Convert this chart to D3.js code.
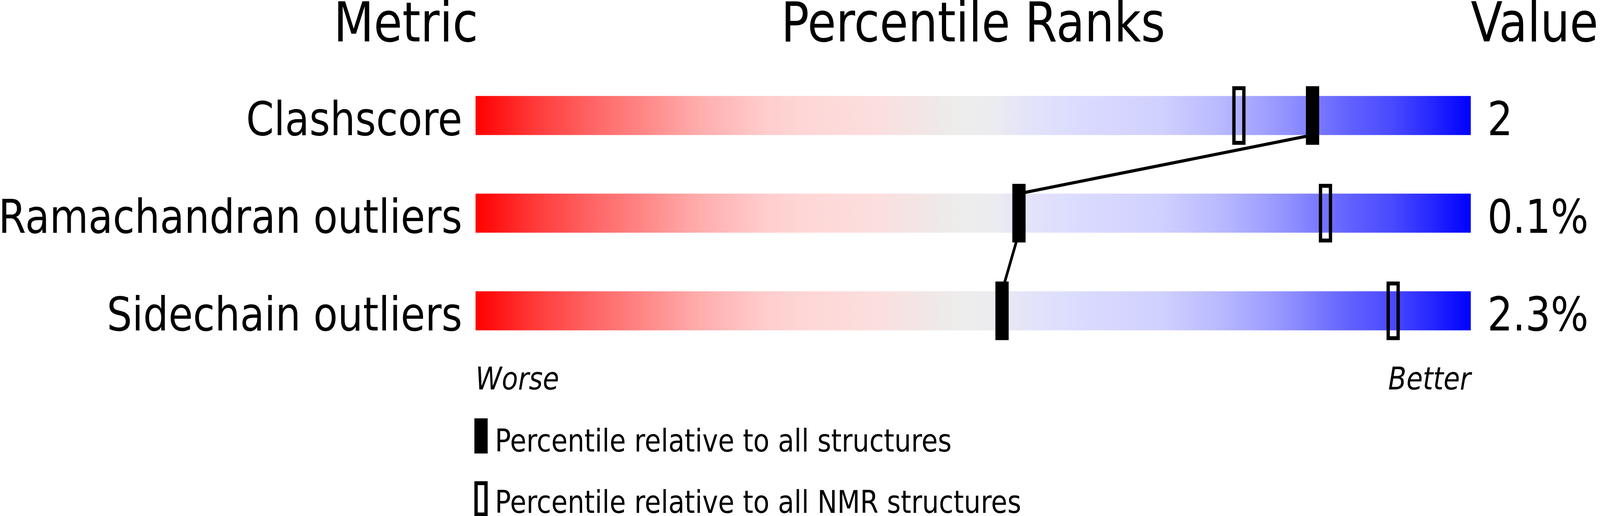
<!DOCTYPE html>
<html>
<head>
<meta charset="utf-8">
<script src="https://cdn.jsdelivr.net/npm/d3@7"></script>
<style>
  html, body { margin: 0; padding: 0; background: #ffffff; overflow: hidden; width: 100%; height: 100%; }
  svg { display: block; position: absolute; left: 0; top: 0; }
  text { font-family: "DejaVu Sans", sans-serif; fill: #000; }
</style>
</head>
<body>
<div id="chart"></div>
<script>
// ---- data ----
const metrics = ["Clashscore", "Ramachandran outliers", "Sidechain outliers"];
const valueLabels = ["2", "0.1%", "2.3%"];
const percentileAll = [84.1, 54.6, 52.9];   // filled markers
const percentileNMR = [76.7, 85.4, 92.2];   // open markers
const headers = ["Metric", "Percentile Ranks", "Value"];
const axisEnds = ["Worse", "Better"];
const legendLabels = ["Percentile relative to all structures", "Percentile relative to all NMR structures"];

// gradient colour ramp (offset, colour)
const rampOffsets = [0, 0.06, 0.125, 0.16, 0.22, 0.29, 0.33, 0.40, 0.45, 0.49, 0.52, 0.55, 0.60, 0.69, 0.75, 0.786, 0.818, 0.85, 0.88, 0.92, 0.95, 1];
const rampColours = ["#ff0000", "#ff3a3a", "#ff6a6a", "#ff8080", "#ffaaaa", "#ffcccc", "#ffd6d6", "#fcdede",
                     "#f2e6e6", "#ededed", "#ececf0", "#e4e4f8", "#dcdcff", "#d0d0ff", "#b8b8ff", "#a4a4ff",
                     "#9090ff", "#7676ff", "#6060ff", "#4a4aff", "#3030ff", "#0000ff"];

// ---- layout ----
const W = 4823, H = 1321;
const vw = window.innerWidth || W, vh = window.innerHeight || H;
const svg = d3.select("#chart").append("svg")
  .attr("width", vw).attr("height", vh)
  .attr("viewBox", `0 0 ${W} ${H}`)
  .attr("preserveAspectRatio", "none");

const x = d3.scaleLinear().domain([0, 100]).range([1433.5, 4433.5]);
const y = d3.scalePoint().domain(metrics).range([295.7, 795.7]);
const barH = 100, markW = 40, markH = 150;

const grad = svg.append("defs").append("linearGradient")
  .attr("id", "ramp").attr("x1", "0%").attr("x2", "100%").attr("y1", "0%").attr("y2", "0%");
grad.selectAll("stop").data(rampOffsets).join("stop")
  .attr("offset", d => d)
  .attr("stop-color", (d, i) => rampColours[i]);

// headers
svg.append("text").attr("x", 1441).attr("y", 106).attr("text-anchor", "end")
  .attr("font-size", 140).text(headers[0]);
svg.append("text").attr("x", (x(0) + x(100)) / 2).attr("y", 106).attr("text-anchor", "middle")
  .attr("font-size", 140).text(headers[1]);
svg.append("text").attr("x", x(100)).attr("y", 106).attr("text-anchor", "start")
  .attr("font-size", 140).text(headers[2]);

// bars
svg.selectAll("rect.bar").data(metrics).join("rect").attr("class", "bar")
  .attr("x", x(0)).attr("width", x(100) - x(0))
  .attr("y", d => y(d) - barH / 2).attr("height", barH)
  .attr("fill", "url(#ramp)");

// metric labels
svg.selectAll("text.metric").data(metrics).join("text").attr("class", "metric")
  .attr("x", x(0) - 40).attr("y", d => y(d) + barH / 2)
  .attr("text-anchor", "end").attr("font-size", 120).text(d => d);

// value labels
svg.selectAll("text.val").data(metrics).join("text").attr("class", "val")
  .attr("x", x(100) + 50).attr("y", d => y(d) + barH / 2)
  .attr("text-anchor", "start").attr("font-size", 120).text((d, i) => valueLabels[i]);

// connecting lines between filled markers
const segs = d3.pairs(metrics.map((m, i) => ({ m, p: percentileAll[i] })));
svg.selectAll("line.link").data(segs).join("line").attr("class", "link")
  .attr("x1", d => x(d[0].p)).attr("y1", d => y(d[0].m) + barH / 2)
  .attr("x2", d => x(d[1].p)).attr("y2", d => y(d[1].m) - barH / 2)
  .attr("stroke", "#000").attr("stroke-width", 8);

// open markers (NMR)
svg.selectAll("rect.nmr").data(metrics).join("rect").attr("class", "nmr")
  .attr("x", (d, i) => x(percentileNMR[i]) - markW / 2 + 5)
  .attr("y", d => y(d) - markH / 2 + 5)
  .attr("width", markW - 10).attr("height", markH - 10)
  .attr("fill", "none").attr("stroke", "#000").attr("stroke-width", 10);

// filled markers (all)
svg.selectAll("rect.all").data(metrics).join("rect").attr("class", "all")
  .attr("x", (d, i) => x(percentileAll[i]) - markW / 2)
  .attr("y", d => y(d) - markH / 2)
  .attr("width", markW).attr("height", markH)
  .attr("fill", "#000");

// worse / better
svg.append("text").attr("x", x(0)).attr("y", 997).attr("text-anchor", "start")
  .attr("font-size", 80).attr("font-style", "italic").text(axisEnds[0]);
svg.append("text").attr("x", x(100)).attr("y", 997).attr("text-anchor", "end")
  .attr("font-size", 80).attr("font-style", "italic").text(axisEnds[1]);

// legend
const lg = svg.append("g");
lg.append("rect").attr("x", 1430).attr("y", 1071).attr("width", 40).attr("height", 90).attr("fill", "#000");
lg.append("rect").attr("x", 1435).attr("y", 1237).attr("width", 30).attr("height", 80)
  .attr("fill", "none").attr("stroke", "#000").attr("stroke-width", 10);
lg.selectAll("text").data(legendLabels).join("text")
  .attr("x", 1492).attr("y", (d, i) => 1156 + i * 157)
  .attr("font-size", 80).text(d => d);
</script>
</body>
</html>
